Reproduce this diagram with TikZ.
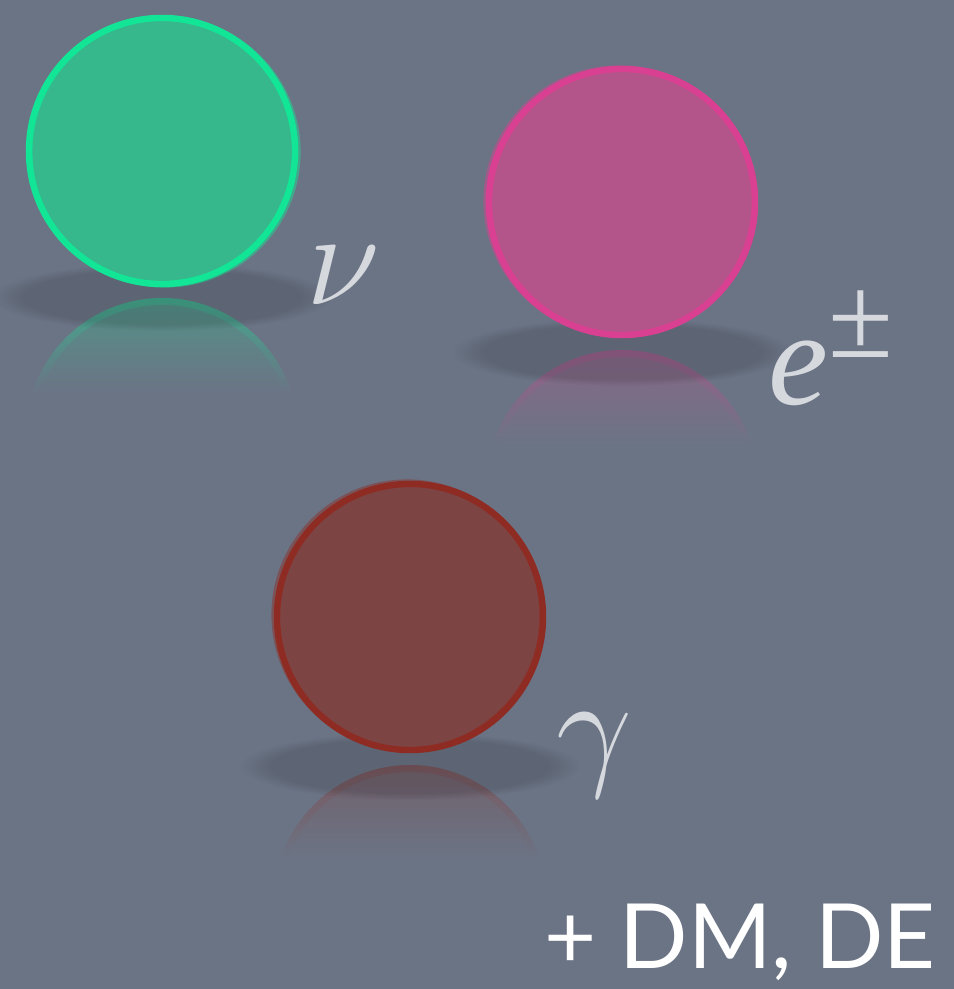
\RequirePackage{fix-cm}
\documentclass[tikz,border=0pt]{standalone}
\usepackage{fontspec}
\setmainfont{Liberation Serif}
\newfontfamily\dmfont{Lato}
\usepackage{xcolor}
\usetikzlibrary{fadings, positioning}

\definecolor{bgslate}{RGB}{107,116,133}
\definecolor{nufill}{RGB}{54,183,140}
\definecolor{nuring}{RGB}{18,230,150}
\definecolor{epfill}{RGB}{179,85,138}
\definecolor{epring}{RGB}{218,64,145}
\definecolor{gafill}{RGB}{125,68,68}
\definecolor{garing}{RGB}{142,44,36}
\definecolor{lblgray}{RGB}{213,216,221}

\begin{document}
\begin{tikzpicture}[
    x=0.025cm, y=0.025cm,
    ball/.style={draw, circle, minimum size=6.65cm, inner sep=0pt, line width=0.16cm},
    halo/.style={line width=0.08cm, opacity=0.45},
    contactshadow/.style={fill=black, opacity=0.13, path fading=circle with fuzzy edge 20 percent},
    lbl/.style={text=lblgray, font=\fontsize{96pt}{96pt}\selectfont, inner sep=0pt, anchor=base west}
]

\useasboundingbox (0,0) rectangle (954,989);
\fill[bgslate] (0,0) rectangle (954,989);

% reflections (rim first, then body)
\begin{scope}
  \clip (162,555) ++(10:136) arc[start angle=10, end angle=170, radius=136] -- cycle;
  \shade[top color=nuring!45!bgslate, bottom color=bgslate] (20,691) rectangle (304,596);
  \clip (162,555) ++(10:129) arc[start angle=10, end angle=170, radius=129] -- cycle;
  \shade[top color=nufill!45!bgslate, bottom color=bgslate] (20,691) rectangle (304,596);
\end{scope}
\begin{scope}
  \clip (622,503) ++(10:136) arc[start angle=10, end angle=170, radius=136] -- cycle;
  \shade[top color=epring!40!bgslate, bottom color=bgslate] (480,639) rectangle (764,544);
  \clip (622,503) ++(10:129) arc[start angle=10, end angle=170, radius=129] -- cycle;
  \shade[top color=epfill!40!bgslate, bottom color=bgslate] (480,639) rectangle (764,544);
\end{scope}
\begin{scope}
  \clip (410,88) ++(10:136) arc[start angle=10, end angle=170, radius=136] -- cycle;
  \shade[top color=garing!40!bgslate, bottom color=bgslate] (268,224) rectangle (552,129);
  \clip (410,88) ++(10:129) arc[start angle=10, end angle=170, radius=129] -- cycle;
  \shade[top color=gafill!40!bgslate, bottom color=bgslate] (268,224) rectangle (552,129);
\end{scope}

% shadows on the floor
\fill[contactshadow] (162,692) ellipse[x radius=170, y radius=34];
\fill[contactshadow] (622,637) ellipse[x radius=170, y radius=34];
\fill[contactshadow] (410,223) ellipse[x radius=170, y radius=34];

% particles
\node[ball, fill=nufill, draw=nuring] (nu) at (162,838) {};
\node[ball, fill=epfill, draw=epring] (ep) at (622,787) {};
\node[ball, fill=gafill, draw=garing] (ga) at (410,372) {};
\draw[halo, nuring] ([shift={(3,-1)}]nu.center) circle[radius=134];
\draw[halo, epring] ([shift={(-3,1)}]ep.center) circle[radius=134];
\draw[halo, garing] ([shift={(-3,2)}]ga.center) circle[radius=134];

\node[lbl] (nulbl) at (306,684) {$\nu$};
\node[lbl] (eplbl) at (768,584) {\itshape e\raisebox{34pt}{\upshape\fontsize{84pt}{84pt}\selectfont ±}};
\node[lbl] (galbl) at (556,217) {$\gamma$};

\node[text=white, font=\dmfont\fontsize{64pt}{64pt}\selectfont, anchor=base east, inner sep=0pt] (extra) at (936,21) {+ DM, DE};

\end{tikzpicture}
\end{document}
